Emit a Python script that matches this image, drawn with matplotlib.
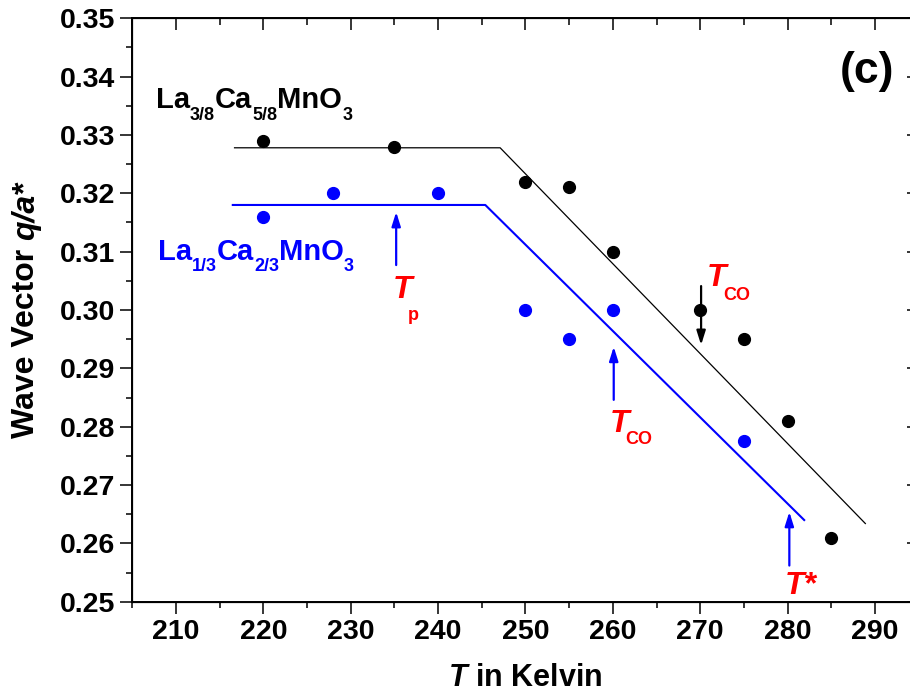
import matplotlib
matplotlib.use('Agg')
import matplotlib.pyplot as plt
import matplotlib.transforms as mtransforms
import numpy as np

plt.rcParams['font.family'] = ['Liberation Sans', 'DejaVu Sans']
plt.rcParams['font.weight'] = 'bold'
plt.rcParams['mathtext.fontset'] = 'custom'
plt.rcParams['mathtext.rm'] = 'Liberation Sans:bold'
plt.rcParams['mathtext.bf'] = 'Liberation Sans:bold'
plt.rcParams['mathtext.it'] = 'Liberation Sans:bold:italic'
plt.rcParams['mathtext.bfit'] = 'Liberation Sans:bold:italic'

# La3/8Ca5/8MnO3 (black)
T_38 = [220, 235, 250, 255, 260, 270, 275, 280, 285]
q_38 = [0.329, 0.328, 0.322, 0.321, 0.310, 0.300, 0.295, 0.281, 0.261]
# La1/3Ca2/3MnO3 (blue)
T_13 = [220, 228, 240, 250, 255, 260, 275]
q_13 = [0.316, 0.320, 0.320, 0.300, 0.295, 0.300, 0.2775]

# guide lines
guide_38_T = [216.7, 247.1, 288.9]
guide_38_q = [0.3278, 0.3278, 0.2634]
guide_13_T = [216.5, 245.4, 281.9]
guide_13_q = [0.318, 0.318, 0.264]

x_ticks = [210, 220, 230, 240, 250, 260, 270, 280, 290]
y_ticks = [0.25, 0.26, 0.27, 0.28, 0.29, 0.30, 0.31, 0.32, 0.33, 0.34, 0.35]

fig = plt.figure(figsize=(9.1, 6.97), dpi=100)
ax = fig.add_axes([0.1454, 0.1367, 0.8641, 0.8371])

ax.plot(guide_38_T, guide_38_q, color='black', lw=0.9)
ax.plot(guide_13_T, guide_13_q, color='blue', lw=1.5)
ax.plot(T_38, q_38, 'o', color='black', ms=8.5)
ax.plot(T_13, q_13, 'o', color='blue', ms=8.5)

ax.set_xlim(205, 295)
ax.set_ylim(0.25, 0.35)
ax.set_xticks(x_ticks)
ax.set_xticks(np.arange(205, 296, 5), minor=True)
ax.set_yticks(y_ticks)
ax.set_yticklabels([f'{v:.2f}' for v in y_ticks])
ax.set_yticks(np.arange(0.25, 0.3501, 0.005), minor=True)
ax.tick_params(which='major', direction='out', length=8.6, width=1.1, labelsize=20.5, pad=4)
ax.tick_params(which='minor', direction='out', length=4.3, width=1.1)
for s in ax.spines.values():
    s.set_linewidth(1.4)

# top and right inward ticks
axt = ax.twiny()
axt.set_xlim(ax.get_xlim())
axt.set_xticks(x_ticks)
axt.set_xticks(np.arange(205, 296, 5), minor=True)
axt.tick_params(which='major', direction='in', length=8.6, width=1.1, labeltop=False)
axt.tick_params(which='minor', direction='in', length=4.8, width=1.1)
axr = ax.twinx()
axr.set_ylim(ax.get_ylim())
axr.set_yticks(y_ticks)
axr.tick_params(which='major', direction='in', length=8.6, width=1.1, labelright=False)

ax.set_xlabel(r'$\mathbfit{T}$ in Kelvin', fontsize=22, fontweight='bold')
ax.xaxis.set_label_coords(0.5, -0.105)

renderer = fig.canvas.get_renderer()
pix = mtransforms.IdentityTransform()

# y label built from pieces (upright / italic), rotated, centred on the axes
ylabel_pieces = [('Wave Vector ', 'normal'), ('q/a', 'italic'), ('*', 'normal')]
ylabel_size = 23
lengths = []
for s, st in ylabel_pieces:
    t = fig.text(0, 0, s, fontsize=ylabel_size, fontstyle=st, rotation=90,
                 rotation_mode='anchor', ha='left', va='baseline', transform=pix)
    lengths.append(t.get_window_extent(renderer).height)
    t.remove()
bb = ax.get_window_extent(renderer)
y0 = (bb.y0 + bb.y1) / 2 - sum(lengths) / 2
for (s, st), h in zip(ylabel_pieces, lengths):
    fig.text(34, y0, s, fontsize=ylabel_size, fontstyle=st, rotation=90,
             rotation_mode='anchor', ha='left', va='baseline', transform=pix)
    y0 += h


def rich_text(x, y, pieces, color):
    # pieces: (text, fontsize, vertical offset in points)
    dx = 0.0
    for s, size, dy in pieces:
        tr = mtransforms.offset_copy(ax.transData, fig=fig, x=dx, y=dy * fig.dpi / 72.0, units='dots')
        t = ax.text(x, y, s, fontsize=size, color=color, ha='left', va='baseline', transform=tr)
        dx += t.get_window_extent(renderer).width


main_size, sub_size, sub_drop = 21, 13, -8.4
rich_text(207.7, 0.3346, [('La', main_size, 0), ('3/8', sub_size, sub_drop), ('Ca', main_size, 0),
                          ('5/8', sub_size, sub_drop), ('MnO', main_size, 0), ('3', sub_size, sub_drop)], 'black')
rich_text(207.9, 0.3086, [('La', main_size, 0), ('1/3', sub_size, sub_drop), ('Ca', main_size, 0),
                          ('2/3', sub_size, sub_drop), ('MnO', main_size, 0), ('3', sub_size, sub_drop)], 'blue')
ax.text(289.1, 0.3408, '(c)', fontsize=32, ha='center', va='center')

# arrows
arrow_style = '-|>,head_length=0.7,head_width=0.22'
arrows = [
    (235.2, 0.3077, 0.3168, 'blue'),
    (270.1, 0.3041, 0.2940, 'black'),
    (260.1, 0.2846, 0.2937, 'blue'),
    (280.2, 0.2562, 0.2654, 'blue'),
]
for x, q_tail, q_tip, c in arrows:
    ax.annotate('', xy=(x, q_tip), xytext=(x, q_tail),
                arrowprops=dict(arrowstyle=arrow_style, color=c, lw=1.6,
                                mutation_scale=12, shrinkA=0, shrinkB=0))

# T labels: (x, y, main, sub_x, sub_y, sub)
t_labels = [
    (234.8, 0.3020, 'T', 236.5, 0.2983, 'p'),
    (270.8, 0.3041, 'T', 272.6, 0.3017, 'CO'),
    (259.7, 0.2791, 'T', 261.4, 0.2770, 'CO'),
]
for x, y, main, sx, sy, sub in t_labels:
    ax.text(x, y, main, fontsize=23, fontstyle='italic', color='red', ha='left', va='baseline')
    ax.text(sx, sy, sub, fontsize=13, color='red', ha='left', va='baseline')
ax.text(279.7, 0.2514, 'T*', fontsize=23, fontstyle='italic', color='red', ha='left', va='baseline')

fig.savefig('out.png', dpi=100)
